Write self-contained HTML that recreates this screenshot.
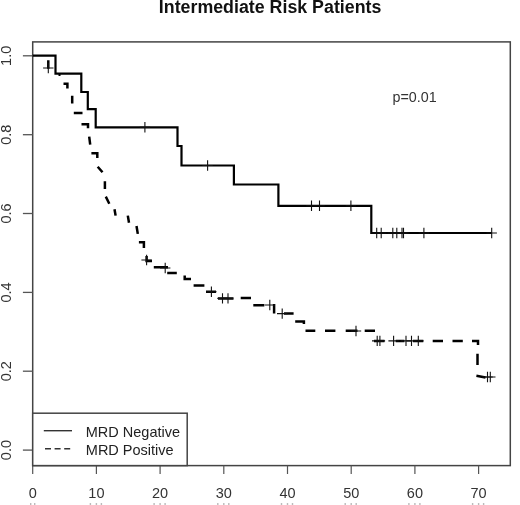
<!DOCTYPE html>
<html><head><meta charset="utf-8"><title>Intermediate Risk Patients</title>
<style>
html,body{margin:0;padding:0;background:#fff;}
body{width:520px;height:505px;overflow:hidden;}
svg{display:block;filter:blur(0.4px);font-family:"Liberation Sans",Arial,sans-serif;}
</style></head><body>
<svg width="520" height="505" viewBox="0 0 520 505">
<rect x="0" y="0" width="520" height="505" fill="#fff"/>
<text x="270.1" y="12.6" text-anchor="middle" font-weight="bold" font-size="18" fill="#111" textLength="222.5" lengthAdjust="spacingAndGlyphs">Intermediate Risk Patients</text>
<rect x="32.7" y="41.9" width="477.6" height="423.7" fill="none" stroke="#444" stroke-width="1.5"/>
<line x1="32.7" y1="465.6" x2="32.7" y2="474.0" stroke="#555" stroke-width="1.2"/>
<text x="32.7" y="498" text-anchor="middle" font-size="14.5" fill="#333">0</text>
<line x1="96.4" y1="465.6" x2="96.4" y2="474.0" stroke="#555" stroke-width="1.2"/>
<text x="96.4" y="498" text-anchor="middle" font-size="14.5" fill="#333">10</text>
<line x1="160.1" y1="465.6" x2="160.1" y2="474.0" stroke="#555" stroke-width="1.2"/>
<text x="160.1" y="498" text-anchor="middle" font-size="14.5" fill="#333">20</text>
<line x1="223.8" y1="465.6" x2="223.8" y2="474.0" stroke="#555" stroke-width="1.2"/>
<text x="223.8" y="498" text-anchor="middle" font-size="14.5" fill="#333">30</text>
<line x1="287.5" y1="465.6" x2="287.5" y2="474.0" stroke="#555" stroke-width="1.2"/>
<text x="287.5" y="498" text-anchor="middle" font-size="14.5" fill="#333">40</text>
<line x1="351.2" y1="465.6" x2="351.2" y2="474.0" stroke="#555" stroke-width="1.2"/>
<text x="351.2" y="498" text-anchor="middle" font-size="14.5" fill="#333">50</text>
<line x1="414.9" y1="465.6" x2="414.9" y2="474.0" stroke="#555" stroke-width="1.2"/>
<text x="414.9" y="498" text-anchor="middle" font-size="14.5" fill="#333">60</text>
<line x1="478.6" y1="465.6" x2="478.6" y2="474.0" stroke="#555" stroke-width="1.2"/>
<text x="478.6" y="498" text-anchor="middle" font-size="14.5" fill="#333">70</text>
<rect x="30.0" y="503" width="1.4" height="2" fill="#bbb"/>
<rect x="34.0" y="503" width="1.4" height="2" fill="#bbb"/>
<rect x="89.7" y="503" width="1.4" height="2" fill="#bbb"/>
<rect x="95.7" y="503" width="1.4" height="2" fill="#bbb"/>
<rect x="100.7" y="503" width="1.4" height="2" fill="#bbb"/>
<rect x="153.4" y="503" width="1.4" height="2" fill="#bbb"/>
<rect x="159.4" y="503" width="1.4" height="2" fill="#bbb"/>
<rect x="164.4" y="503" width="1.4" height="2" fill="#bbb"/>
<rect x="217.1" y="503" width="1.4" height="2" fill="#bbb"/>
<rect x="223.1" y="503" width="1.4" height="2" fill="#bbb"/>
<rect x="228.1" y="503" width="1.4" height="2" fill="#bbb"/>
<rect x="280.8" y="503" width="1.4" height="2" fill="#bbb"/>
<rect x="286.8" y="503" width="1.4" height="2" fill="#bbb"/>
<rect x="291.8" y="503" width="1.4" height="2" fill="#bbb"/>
<rect x="344.5" y="503" width="1.4" height="2" fill="#bbb"/>
<rect x="350.5" y="503" width="1.4" height="2" fill="#bbb"/>
<rect x="355.5" y="503" width="1.4" height="2" fill="#bbb"/>
<rect x="408.2" y="503" width="1.4" height="2" fill="#bbb"/>
<rect x="414.2" y="503" width="1.4" height="2" fill="#bbb"/>
<rect x="419.2" y="503" width="1.4" height="2" fill="#bbb"/>
<rect x="471.9" y="503" width="1.4" height="2" fill="#bbb"/>
<rect x="477.9" y="503" width="1.4" height="2" fill="#bbb"/>
<rect x="482.9" y="503" width="1.4" height="2" fill="#bbb"/>
<line x1="22.900000000000002" y1="450.1" x2="32.7" y2="450.1" stroke="#555" stroke-width="1.3"/>
<text transform="translate(11.2,450.1) rotate(-90)" text-anchor="middle" font-size="14.5" fill="#333">0.0</text>
<line x1="22.900000000000002" y1="371.2" x2="32.7" y2="371.2" stroke="#555" stroke-width="1.3"/>
<text transform="translate(11.2,371.2) rotate(-90)" text-anchor="middle" font-size="14.5" fill="#333">0.2</text>
<line x1="22.900000000000002" y1="292.4" x2="32.7" y2="292.4" stroke="#555" stroke-width="1.3"/>
<text transform="translate(11.2,292.4) rotate(-90)" text-anchor="middle" font-size="14.5" fill="#333">0.4</text>
<line x1="22.900000000000002" y1="213.5" x2="32.7" y2="213.5" stroke="#555" stroke-width="1.3"/>
<text transform="translate(11.2,213.5) rotate(-90)" text-anchor="middle" font-size="14.5" fill="#333">0.6</text>
<line x1="22.900000000000002" y1="134.7" x2="32.7" y2="134.7" stroke="#555" stroke-width="1.3"/>
<text transform="translate(11.2,134.7) rotate(-90)" text-anchor="middle" font-size="14.5" fill="#333">0.8</text>
<line x1="22.900000000000002" y1="55.8" x2="32.7" y2="55.8" stroke="#555" stroke-width="1.3"/>
<text transform="translate(11.2,55.8) rotate(-90)" text-anchor="middle" font-size="14.5" fill="#333">1.0</text>
<text x="392.5" y="101.8" font-size="14.3" fill="#333">p=0.01</text>
<path d="M32.7,55.6 L55.5,55.6 L55.5,73.6 L81.3,73.6 L81.3,92.0 L87.8,92.0 L87.8,109.2 L95.7,109.2 L95.7,127.3 L177.5,127.3 L177.5,146.0 L181.5,146.0 L181.5,165.5 L233.9,165.5 L233.9,184.5 L278.4,184.5 L278.4,205.8 L371.3,205.8 L371.3,233.0 L491.7,233.0" fill="none" stroke="#000" stroke-width="2.2" stroke-linejoin="miter"/>
<path d="M139.7,127.3 H150.1 M144.9,122.1 V132.5" fill="none" stroke="#111" stroke-width="1.1"/>
<path d="M202.4,165.5 H212.8 M207.6,160.3 V170.7" fill="none" stroke="#111" stroke-width="1.1"/>
<path d="M306.3,205.8 H316.7 M311.5,200.6 V211.0" fill="none" stroke="#111" stroke-width="1.1"/>
<path d="M314.3,205.8 H324.7 M319.5,200.6 V211.0" fill="none" stroke="#111" stroke-width="1.1"/>
<path d="M345.7,205.8 H356.1 M350.9,200.6 V211.0" fill="none" stroke="#111" stroke-width="1.1"/>
<path d="M371.5,233.0 H381.9 M376.7,227.8 V238.2" fill="none" stroke="#111" stroke-width="1.1"/>
<path d="M376.0,233.0 H386.4 M381.2,227.8 V238.2" fill="none" stroke="#111" stroke-width="1.1"/>
<path d="M387.6,233.0 H398.0 M392.8,227.8 V238.2" fill="none" stroke="#111" stroke-width="1.1"/>
<path d="M391.6,233.0 H402.0 M396.8,227.8 V238.2" fill="none" stroke="#111" stroke-width="1.1"/>
<path d="M396.8,233.0 H407.2 M402.0,227.8 V238.2" fill="none" stroke="#111" stroke-width="1.1"/>
<path d="M398.3,233.0 H408.7 M403.5,227.8 V238.2" fill="none" stroke="#111" stroke-width="1.1"/>
<path d="M418.7,233.0 H429.1 M423.9,227.8 V238.2" fill="none" stroke="#111" stroke-width="1.1"/>
<path d="M486.5,233.0 H496.9 M491.7,227.8 V238.2" fill="none" stroke="#111" stroke-width="1.1"/>
<path d="M48.3,60.3 V68.7 M58.5,74.8 H60.5 M63.5,83.8 H67.4 V88.5 M72.2,95.7 V103.6 M73.8,113.1 H82.5 M81.5,124.3 H88 V128.2 M89.2,136.6 L90.2,144.6 M91.4,153.3 H97.3 V158 M97.7,166.7 L102.5,172.3 M104.9,181.3 V189 M105.8,196.6 L109.3,203.8 M114.5,209.3 L115.6,215.6 M127.8,215.6 L129,222.8 M136.5,226 L137.8,233.9 M138.9,242.2 H143.9 V248.1 M146.6,256 V261 H152 M153.8,267.2 H168 M167.2,273.1 H176.8 M184.7,275.5 V279.1 H191 M193.6,285.4 H204.4 M206,291.7 H216 M218,298.4 H233.5 M240.7,298.1 H251 M253.3,305.2 H264.3 M274.1,304 V313.6 M284,313.6 H293.6 M295.2,321.5 H303.9 V324 M305.5,330.8 H315.3 M325,330.8 H335.4 M345.7,330.8 H357.5 M364.7,330.8 H375 M374,340.9 H384.5 M395.7,340.9 H404.4 M413,340.9 H423.3 M432.7,340.9 H443 M452.5,340.9 H462.8 M472,340.9 H478 V345 M477.5,353.8 V365 M476.4,375.8 L485.5,377.4" fill="none" stroke="#000" stroke-width="2.5"/>
<path d="M43.1,68.0 H53.5 M48.3,62.8 V73.2" fill="none" stroke="#111" stroke-width="1.1"/>
<path d="M141.4,260.0 H151.8 M146.6,254.8 V265.2" fill="none" stroke="#111" stroke-width="1.1"/>
<path d="M160.0,268.0 H170.4 M165.2,262.8 V273.2" fill="none" stroke="#111" stroke-width="1.1"/>
<path d="M206.2,291.7 H216.6 M211.4,286.5 V296.9" fill="none" stroke="#111" stroke-width="1.1"/>
<path d="M217.3,298.4 H227.7 M222.5,293.2 V303.6" fill="none" stroke="#111" stroke-width="1.1"/>
<path d="M222.8,298.4 H233.2 M228.0,293.2 V303.6" fill="none" stroke="#111" stroke-width="1.1"/>
<path d="M264.6,305.0 H275.0 M269.8,299.8 V310.2" fill="none" stroke="#111" stroke-width="1.1"/>
<path d="M277.0,313.6 H287.4 M282.2,308.4 V318.8" fill="none" stroke="#111" stroke-width="1.1"/>
<path d="M350.8,331.0 H361.2 M356.0,325.8 V336.2" fill="none" stroke="#111" stroke-width="1.1"/>
<path d="M372.0,340.9 H382.4 M377.2,335.7 V346.1" fill="none" stroke="#111" stroke-width="1.1"/>
<path d="M374.7,340.9 H385.1 M379.9,335.7 V346.1" fill="none" stroke="#111" stroke-width="1.1"/>
<path d="M388.4,340.9 H398.8 M393.6,335.7 V346.1" fill="none" stroke="#111" stroke-width="1.1"/>
<path d="M400.8,340.9 H411.2 M406.0,335.7 V346.1" fill="none" stroke="#111" stroke-width="1.1"/>
<path d="M406.3,340.9 H416.7 M411.5,335.7 V346.1" fill="none" stroke="#111" stroke-width="1.1"/>
<path d="M413.1,340.9 H423.5 M418.3,335.7 V346.1" fill="none" stroke="#111" stroke-width="1.1"/>
<path d="M482.3,377.0 H492.7 M487.5,371.8 V382.2" fill="none" stroke="#111" stroke-width="1.1"/>
<path d="M485.1,377.0 H495.5 M490.3,371.8 V382.2" fill="none" stroke="#111" stroke-width="1.1"/>
<rect x="32.7" y="413.2" width="154.5" height="52.4" fill="#fff" stroke="#444" stroke-width="1.5"/>
<line x1="43.8" y1="430.7" x2="72" y2="430.7" stroke="#333" stroke-width="1.4"/>
<line x1="45" y1="448.8" x2="72" y2="448.8" stroke="#333" stroke-width="1.4" stroke-dasharray="6 3.6"/>
<text x="85.8" y="436.7" font-size="14.5" fill="#222" textLength="94.2" lengthAdjust="spacingAndGlyphs">MRD Negative</text>
<text x="85.8" y="455.2" font-size="14.5" fill="#222">MRD Positive</text>
</svg>
</body></html>
